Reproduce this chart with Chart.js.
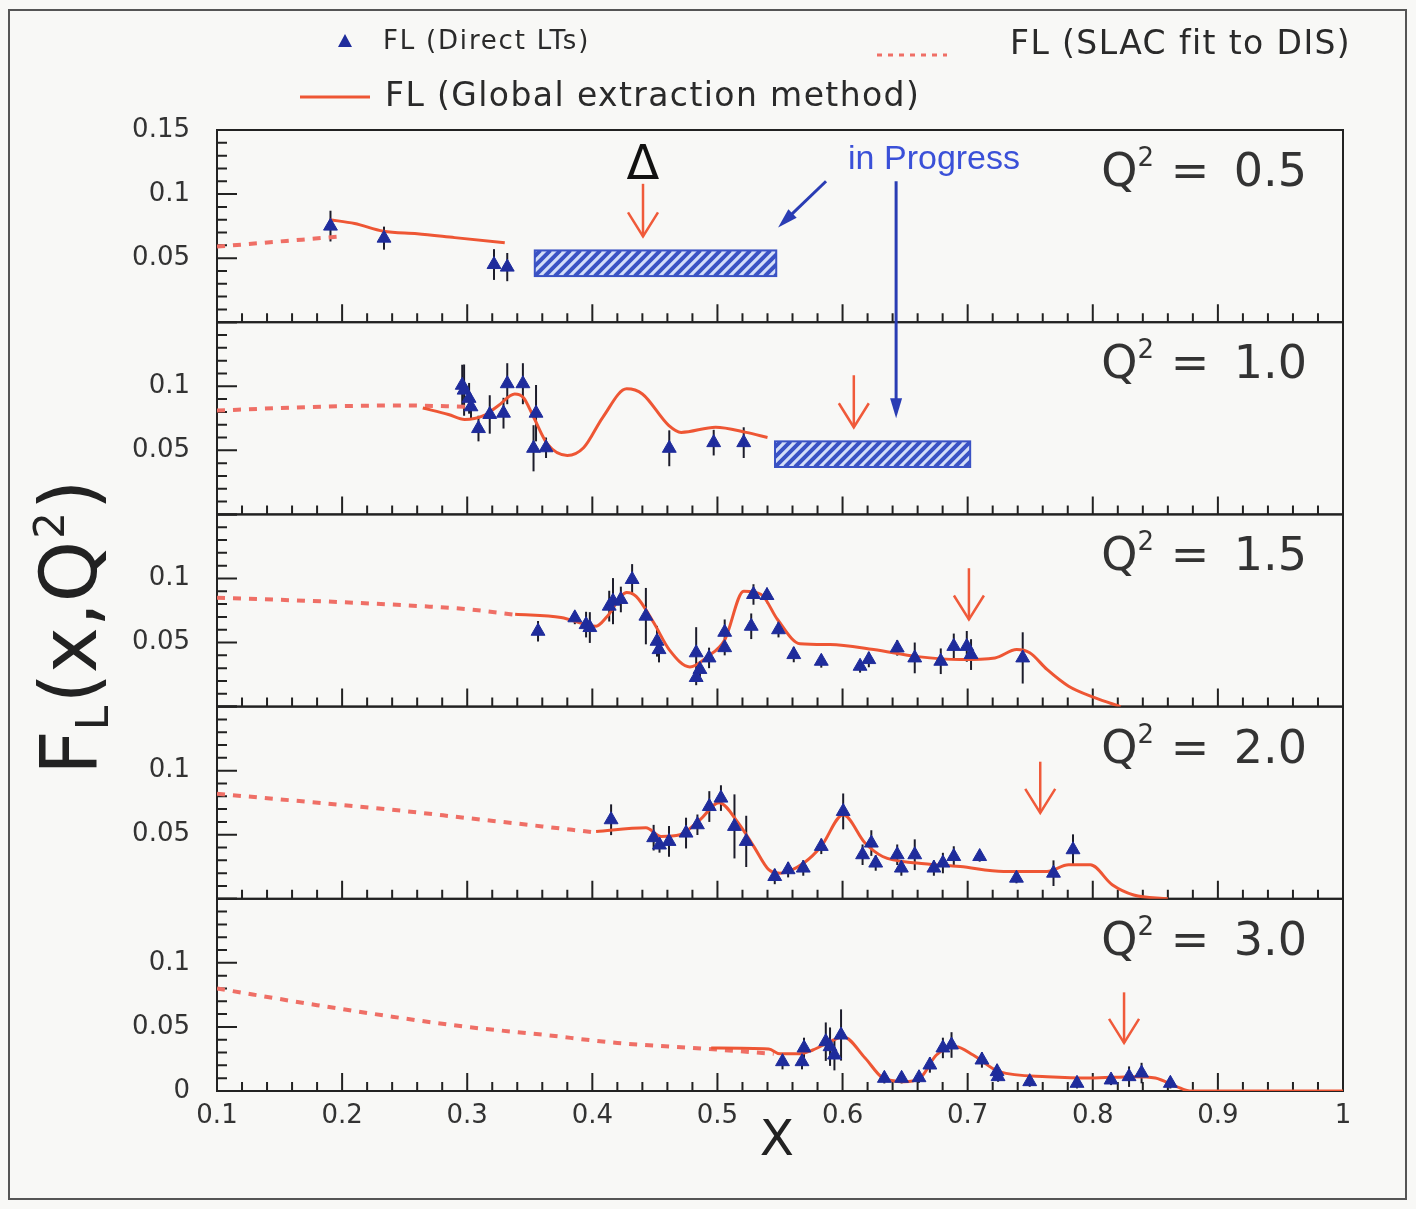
<!DOCTYPE html>
<html>
<head>
<meta charset="utf-8">
<script src="https://cdn.jsdelivr.net/npm/chart.js@4.4.1/dist/chart.umd.min.js"></script>
<style>
  html, body { margin: 0; padding: 0; background: #f8f8f6; }
  #wrap { width: 1416px; height: 1209px; position: relative; }
</style>
</head>
<body>
<div id="wrap"><canvas id="fl-chart"></canvas></div>
<script>
// Q^2 panels, top to bottom
var q2_labels = ['0.5', '1.0', '1.5', '2.0', '3.0'];

// FL from direct L/T separations (one row per panel)
var lt_x = [
  [0.1907, 0.2335, 0.3214, 0.332],
  [0.296, 0.2975, 0.3015, 0.303, 0.309, 0.318, 0.329, 0.332, 0.3445, 0.353, 0.355, 0.363, 0.4615, 0.497, 0.521],
  [0.3566, 0.386, 0.395, 0.398, 0.4135, 0.4165, 0.4228, 0.4318, 0.4428, 0.4517, 0.4533, 0.483, 0.483, 0.486, 0.4933, 0.5058, 0.5058,
   0.527, 0.5288, 0.5396, 0.5488, 0.561, 0.583, 0.614, 0.621, 0.6437, 0.6577, 0.6785, 0.6889, 0.6993, 0.7027, 0.744],
  [0.415, 0.449, 0.4537, 0.4613, 0.4749, 0.484, 0.4935, 0.5028, 0.5136, 0.523, 0.5458, 0.5565, 0.5686, 0.583, 0.6005, 0.616, 0.623,
   0.6265, 0.6437, 0.647, 0.6577, 0.673, 0.6802, 0.6889, 0.7096, 0.739, 0.7686, 0.7842],
  [0.552, 0.5676, 0.5692, 0.5866, 0.590, 0.5935, 0.5988, 0.6334, 0.6472, 0.6611, 0.6698, 0.6802, 0.6871, 0.7114, 0.7235, 0.7243,
   0.7496, 0.7874, 0.8146, 0.829, 0.839, 0.862]
];
var lt_y = [
  [0.075, 0.0656, 0.045, 0.043],
  [0.1008, 0.097, 0.0906, 0.084, 0.067, 0.078, 0.079, 0.102, 0.102, 0.0516, 0.079, 0.052, 0.0516, 0.056, 0.056],
  [0.0588, 0.0693, 0.064, 0.0617, 0.0784, 0.0823, 0.0836, 0.0992, 0.0706, 0.051, 0.0445, 0.042, 0.0227, 0.029, 0.038, 0.046, 0.058,
   0.0627, 0.0875, 0.0867, 0.060, 0.0406, 0.0354, 0.0315, 0.0367, 0.0458, 0.038, 0.0354, 0.047, 0.047, 0.0406, 0.038],
  [0.0617, 0.0477, 0.042, 0.0448, 0.0513, 0.0578, 0.072, 0.0786, 0.0565, 0.0448, 0.0174, 0.0227, 0.024, 0.0409, 0.0682, 0.0344, 0.0435,
   0.0279, 0.0344, 0.024, 0.0344, 0.024, 0.0279, 0.033, 0.033, 0.0161, 0.02, 0.0383],
  [0.0229, 0.0229, 0.0336, 0.0385, 0.0346, 0.0281, 0.0437, 0.0099, 0.0099, 0.0104, 0.0203, 0.0336, 0.0359, 0.0242, 0.0151, 0.0112,
   0.0073, 0.006, 0.0086, 0.0112, 0.014, 0.006]
];
var lt_err = [
  [0.012, 0.009, 0.012, 0.011],
  [0.016, 0.02, 0.012, 0.01, 0.01, 0.015, 0.012, 0.016, 0.016, 0.018, 0.022, 0.008, 0.014, 0.01, 0.012],
  [0.008, 0.005, 0.01, 0.012, 0.012, 0.018, 0.01, 0.012, 0.022, 0.012, 0.01, 0.02, 0.006, 0.006, 0.008, 0.006, 0.01,
   0.01, 0.008, 0.006, 0.006, 0.006, 0.005, 0.005, 0.006, 0.006, 0.012, 0.01, 0.01, 0.012, 0.012, 0.02],
  [0.012, 0.01, 0.006, 0.012, 0.012, 0.008, 0.012, 0.01, 0.025, 0.02, 0.006, 0.006, 0.006, 0.006, 0.014, 0.008, 0.01,
   0.006, 0.008, 0.006, 0.012, 0.006, 0.008, 0.008, 0.004, 0.004, 0.01, 0.012],
  [0.006, 0.006, 0.008, 0.015, 0.015, 0.012, 0.02, 0.004, 0.004, 0.004, 0.006, 0.008, 0.01, 0.006, 0.006, 0.004,
   0.004, 0.004, 0.004, 0.008, 0.008, 0.004]
];

// FL from the global extraction method
var fit_x = [
  [0.19, 0.21, 0.233, 0.26, 0.29, 0.33],
  [0.2645, 0.285, 0.298, 0.313, 0.325, 0.338, 0.345, 0.353, 0.364, 0.380, 0.393, 0.4085, 0.4275, 0.44, 0.461, 0.471, 0.4985, 0.523, 0.54],
  [0.3383, 0.375, 0.403, 0.412, 0.4275, 0.435, 0.449, 0.4614, 0.478, 0.492, 0.5058, 0.521, 0.535, 0.548, 0.566, 0.59, 0.6248,
   0.66, 0.694, 0.7219, 0.7392, 0.7496, 0.7634, 0.7807, 0.8015, 0.8223],
  [0.403, 0.4428, 0.455, 0.47, 0.486, 0.5013, 0.5166, 0.529, 0.541, 0.55, 0.569, 0.583, 0.6005, 0.618, 0.632, 0.6593, 0.694,
   0.7287, 0.7634, 0.7807, 0.798, 0.8155, 0.8327, 0.86],
  [0.495, 0.541, 0.55, 0.5658, 0.5762, 0.59, 0.6005, 0.618, 0.632, 0.649, 0.663, 0.675, 0.6906, 0.7044, 0.7251, 0.7634, 0.798,
   0.8327, 0.85, 0.867, 0.8777, 1.0]
];
var fit_y = [
  [0.080, 0.077, 0.071, 0.069, 0.066, 0.062],
  [0.083, 0.078, 0.074, 0.077, 0.085, 0.094, 0.091, 0.076, 0.055, 0.046, 0.052, 0.076, 0.098, 0.094, 0.0695, 0.064, 0.068, 0.064, 0.060],
  [0.072, 0.0695, 0.0627, 0.0705, 0.089, 0.086, 0.0656, 0.0445, 0.031, 0.039, 0.052, 0.090, 0.0875, 0.068, 0.049, 0.0484, 0.0445,
   0.039, 0.0367, 0.038, 0.0445, 0.042, 0.029, 0.0159, 0.007, 0.0],
  [0.0526, 0.0554, 0.0487, 0.05, 0.0617, 0.075, 0.0593, 0.0409, 0.0227, 0.02, 0.028, 0.041, 0.0656, 0.0435, 0.033, 0.0279, 0.0252,
   0.0213, 0.0213, 0.0265, 0.0265, 0.011, 0.003, 0.0],
  [0.0336, 0.0328, 0.029, 0.029, 0.032, 0.0385, 0.0424, 0.0258, 0.0104, 0.0073, 0.0112, 0.0281, 0.0346, 0.0281, 0.0151, 0.0112,
   0.0101, 0.0112, 0.0101, 0.0034, 0.0, 0.0]
];

// FL from the SLAC fit to DIS
var slac_x = [
  [0.1, 0.15, 0.2],
  [0.1, 0.15, 0.2, 0.25, 0.3],
  [0.1, 0.2, 0.27, 0.3, 0.34],
  [0.1, 0.24, 0.3, 0.36, 0.4],
  [0.1, 0.18, 0.24, 0.30, 0.36, 0.42, 0.49, 0.545]
];
var slac_y = [
  [0.059, 0.063, 0.067],
  [0.081, 0.083, 0.0845, 0.085, 0.084],
  [0.085, 0.0815, 0.078, 0.076, 0.0715],
  [0.082, 0.0695, 0.063, 0.0565, 0.052],
  [0.080, 0.067, 0.058, 0.050, 0.044, 0.0375, 0.033, 0.029]
];

// Delta(1232) arrows, one per panel
var delta_x = [0.4405, 0.609, 0.701, 0.758, 0.825];
var delta_top = [0.108, 0.1086, 0.108, 0.107, 0.077];
var delta_bottom = [0.067, 0.068, 0.068, 0.067, 0.0375];

// "in progress" bands (panels 0 and 1)
var band_panel = [0, 1];
var band_x0 = [0.354, 0.546];
var band_x1 = [0.547, 0.702];
var band_lo = [0.036, 0.037];
var band_hi = [0.056, 0.057];

var NAVY = '#1f2c9c';
var FIT_RED = '#ee5634';
var SLAC_RED = '#ef6f66';
var INK = '#333333';
var FONT = 'DejaVu Sans';

function pairs(xs, ys) {
  return xs.map(function (x, j) { return { x: x, y: ys[j] }; });
}

var datasets = [];
var scales = {
  x: {
    type: 'linear', min: 0.1, max: 1,
    afterFit: function (s) { s.height = 118; },
    grid: { display: false, drawTicks: false },
    border: { display: false },
    ticks: {
      stepSize: 0.1, padding: 10, color: INK,
      font: { family: FONT, size: 26 },
      callback: function (v) { return Math.abs(v - 1) < 1e-6 ? '1' : v.toFixed(1); }
    }
  }
};

// stacked panel axes; the last defined ends up on top
for (var i = 4; i >= 0; i--) {
  (function (i) {
    scales['y' + i] = {
      type: 'linear', position: 'left', stack: 'panels', stackWeight: 1,
      min: 0, max: 0.15,
      afterFit: function (s) { s.width = 217; },
      grid: { display: false, drawTicks: false },
      border: { display: false },
      ticks: {
        stepSize: 0.05, autoSkip: false, padding: 27, color: INK,
        font: { family: FONT, size: 26 },
        callback: function (v) {
          if (v > 0.149 && i !== 0) return '';
          if (v < 0.001 && i !== 4) return '';
          return v < 0.001 ? '0' : String(parseFloat(v.toFixed(2)));
        }
      }
    };
  })(i);
}

for (var p = 0; p < 5; p++) {
  datasets.push({
    label: 'FL (Direct LTs)', yAxisID: 'y' + p, order: 0,
    data: pairs(lt_x[p], lt_y[p]), errs: lt_err[p],
    pointStyle: 'triangle', pointRadius: 8, pointHoverRadius: 8,
    backgroundColor: NAVY, borderColor: NAVY, borderWidth: 1, showLine: false
  });
  datasets.push({
    label: 'FL (Global extraction method)', yAxisID: 'y' + p, order: 1,
    data: pairs(fit_x[p], fit_y[p]), showLine: true, pointRadius: 0,
    borderColor: FIT_RED, borderWidth: 3, cubicInterpolationMode: 'monotone'
  });
  datasets.push({
    label: 'FL (SLAC fit to DIS)', yAxisID: 'y' + p, order: 2,
    data: pairs(slac_x[p], slac_y[p]), showLine: true, pointRadius: 0,
    borderColor: SLAC_RED, borderWidth: 4, borderDash: [8, 8], cubicInterpolationMode: 'monotone'
  });
}

function yScale(chart, p) { return chart.scales['y' + p]; }

function openArrow(ctx, x, y0, y1, color) {
  ctx.save();
  ctx.strokeStyle = color; ctx.lineWidth = 2.5;
  ctx.beginPath(); ctx.moveTo(x, y0); ctx.lineTo(x, y1); ctx.stroke();
  ctx.beginPath(); ctx.moveTo(x - 15, y1 - 24); ctx.lineTo(x, y1); ctx.lineTo(x + 15, y1 - 24); ctx.stroke();
  ctx.restore();
}

function solidArrow(ctx, x0, y0, x1, y1, color) {
  var a = Math.atan2(y1 - y0, x1 - x0);
  ctx.save();
  ctx.strokeStyle = color; ctx.fillStyle = color; ctx.lineWidth = 3;
  ctx.beginPath(); ctx.moveTo(x0, y0);
  ctx.lineTo(x1 - 14 * Math.cos(a), y1 - 14 * Math.sin(a)); ctx.stroke();
  ctx.beginPath(); ctx.moveTo(x1, y1);
  ctx.lineTo(x1 - 20 * Math.cos(a) + 6 * Math.sin(a), y1 - 20 * Math.sin(a) - 6 * Math.cos(a));
  ctx.lineTo(x1 - 20 * Math.cos(a) - 6 * Math.sin(a), y1 - 20 * Math.sin(a) + 6 * Math.cos(a));
  ctx.closePath(); ctx.fill();
  ctx.restore();
}

// page background, outer box, panel frames and inward ticks
var framePlugin = {
  id: 'frames',
  beforeDraw: function (chart) {
    var ctx = chart.ctx;
    ctx.save();
    ctx.fillStyle = '#f8f8f6';
    ctx.fillRect(0, 0, chart.width, chart.height);
    ctx.strokeStyle = '#555'; ctx.lineWidth = 2;
    ctx.strokeRect(9, 10, 1397, 1189);
    ctx.restore();
  },
  beforeDatasetsDraw: function (chart) {
    var ctx = chart.ctx, xs = chart.scales.x, area = chart.chartArea;
    ctx.save();
    ctx.strokeStyle = '#222'; ctx.lineWidth = 2;
    for (var p = 0; p < 5; p++) {
      var ys = yScale(chart, p);
      ctx.strokeRect(area.left, ys.top, area.right - area.left, ys.bottom - ys.top);
      ctx.beginPath();
      for (var k = 0; k <= 15; k++) {
        var py = ys.getPixelForValue(k / 100);
        ctx.moveTo(area.left, py); ctx.lineTo(area.left + (k % 5 === 0 ? 20 : 10), py);
      }
      for (var m = 5; m <= 50; m++) {
        var px = xs.getPixelForValue(m * 0.02);
        ctx.moveTo(px, ys.bottom); ctx.lineTo(px, ys.bottom - (m % 5 === 0 ? 18 : 9));
      }
      ctx.stroke();
    }
    // error bars
    ctx.lineWidth = 2; ctx.strokeStyle = '#1c1c2a';
    chart.data.datasets.forEach(function (ds, n) {
      if (!ds.errs) return;
      var sc = chart.scales[ds.yAxisID];
      chart.getDatasetMeta(n).data.forEach(function (el, j) {
        var d = ds.data[j];
        ctx.beginPath();
        ctx.moveTo(el.x, sc.getPixelForValue(d.y - ds.errs[j]));
        ctx.lineTo(el.x, sc.getPixelForValue(d.y + ds.errs[j]));
        ctx.stroke();
      });
    });
    ctx.restore();
  }
};

// bands, arrows, panel labels, legend and axis titles
var notesPlugin = {
  id: 'notes',
  afterDatasetsDraw: function (chart) {
    var ctx = chart.ctx, xs = chart.scales.x, area = chart.chartArea;
    ctx.save();

    // hatched "in progress" bands
    band_panel.forEach(function (p, b) {
      var ys = yScale(chart, p);
      var x0 = xs.getPixelForValue(band_x0[b]), x1 = xs.getPixelForValue(band_x1[b]);
      var yt = ys.getPixelForValue(band_hi[b]), yb = ys.getPixelForValue(band_lo[b]);
      ctx.save();
      ctx.beginPath(); ctx.rect(x0, yt, x1 - x0, yb - yt); ctx.clip();
      ctx.fillStyle = '#d4def8'; ctx.fillRect(x0, yt, x1 - x0, yb - yt);
      ctx.strokeStyle = '#3a52c4'; ctx.lineWidth = 4;
      ctx.beginPath();
      for (var s = x0 - 40; s < x1 + 40; s += 10) { ctx.moveTo(s, yb); ctx.lineTo(s + (yb - yt), yt); }
      ctx.stroke();
      ctx.restore();
      ctx.strokeStyle = '#3a52c4'; ctx.lineWidth = 2;
      ctx.strokeRect(x0, yt, x1 - x0, yb - yt);
    });

    // Delta arrows
    for (var p = 0; p < 5; p++) {
      var ys = yScale(chart, p);
      openArrow(ctx, xs.getPixelForValue(delta_x[p]), ys.getPixelForValue(delta_top[p]),
        ys.getPixelForValue(delta_bottom[p]), '#f05a3a');
    }
    var y0 = yScale(chart, 0), y1 = yScale(chart, 1);
    ctx.fillStyle = '#111'; ctx.font = '48px ' + FONT; ctx.textAlign = 'center'; ctx.textBaseline = 'alphabetic';
    ctx.fillText('\u0394', xs.getPixelForValue(delta_x[0]), y0.getPixelForValue(0.112));

    // "in Progress" arrows and text
    solidArrow(ctx, xs.getPixelForValue(0.5868), y0.getPixelForValue(0.110),
      xs.getPixelForValue(0.5485), y0.getPixelForValue(0.074), '#2a3db4');
    solidArrow(ctx, xs.getPixelForValue(0.6428), y0.getPixelForValue(0.110),
      xs.getPixelForValue(0.6428), y1.getPixelForValue(0.075), '#2a3db4');
    ctx.fillStyle = '#3a50d8'; ctx.font = '34px "Liberation Sans"'; ctx.textAlign = 'left';
    ctx.fillText('in Progress', xs.getPixelForValue(0.6044), y0.getPixelForValue(0.1195));

    // Q^2 labels
    ctx.fillStyle = '#333';
    for (var q = 0; q < 5; q++) {
      var top = yScale(chart, q).top;
      var right = area.right - 36, base = top + 56;
      ctx.font = '46px ' + FONT;
      var rest = ' = ' + q2_labels[q];
      var wRest = ctx.measureText(rest).width + 10;
      ctx.textAlign = 'left';
      ctx.fillText(' =', right - wRest, base);
      ctx.textAlign = 'right';
      ctx.fillText(q2_labels[q], right, base);
      ctx.textAlign = 'left';
      ctx.font = '26px ' + FONT;
      var w2 = ctx.measureText('2').width;
      ctx.fillText('2', right - wRest - w2 - 2, base - 20);
      ctx.font = '46px ' + FONT;
      var wQ = ctx.measureText('Q').width;
      ctx.fillText('Q', right - wRest - w2 - 2 - wQ, base);
    }
    ctx.restore();
  },
  afterDraw: function (chart) {
    var ctx = chart.ctx, ds = chart.data.datasets;
    ctx.save();
    ctx.textBaseline = 'middle'; ctx.textAlign = 'left'; ctx.fillStyle = INK;

    // legend
    ctx.fillStyle = ds[0].backgroundColor;
    ctx.beginPath(); ctx.moveTo(345, 34); ctx.lineTo(352, 47); ctx.lineTo(338, 47); ctx.closePath(); ctx.fill();
    ctx.fillStyle = '#2a2a2a'; ctx.font = '26px ' + FONT;
    ctx.letterSpacing = '1.8px';
    ctx.fillText(ds[0].label, 383, 42);

    ctx.letterSpacing = '1.4px';
    ctx.strokeStyle = ds[2].borderColor; ctx.lineWidth = 3; ctx.setLineDash([5, 6]);
    ctx.beginPath(); ctx.moveTo(877, 55); ctx.lineTo(947, 55); ctx.stroke();
    ctx.setLineDash([]);
    ctx.font = '33px ' + FONT;
    ctx.fillText(ds[2].label, 1010, 45);

    ctx.strokeStyle = ds[1].borderColor; ctx.lineWidth = 3;
    ctx.beginPath(); ctx.moveTo(300, 97); ctx.lineTo(370, 97); ctx.stroke();
    ctx.fillText(ds[1].label, 385, 97);
    ctx.letterSpacing = '0px';

    // x title
    ctx.textAlign = 'center'; ctx.font = '50px ' + FONT; ctx.fillStyle = '#222';
    ctx.fillText('X', 777, 1142);

    // y title F_L(x,Q^2), rotated
    ctx.translate(96, 775); ctx.rotate(-Math.PI / 2);
    ctx.textAlign = 'left'; ctx.textBaseline = 'alphabetic';
    var x = 0;
    ctx.font = '78px ' + FONT; ctx.fillText('F', x, 0); x += ctx.measureText('F').width;
    ctx.font = '44px ' + FONT; ctx.fillText('L', x, 12); x += ctx.measureText('L').width + 2;
    ctx.font = '78px ' + FONT; ctx.fillText('(x,Q', x, 0); x += ctx.measureText('(x,Q').width;
    ctx.font = '42px ' + FONT; ctx.fillText('2', x + 2, -32); x += ctx.measureText('2').width + 4;
    ctx.font = '78px ' + FONT; ctx.fillText(')', x, 0);
    ctx.restore();
  }
};

new Chart(document.getElementById('fl-chart'), {
  type: 'scatter',
  data: { datasets: datasets },
  options: {
    responsive: true,
    maintainAspectRatio: false,
    animation: false,
    layout: { padding: { top: 130, right: 73, bottom: 0, left: 0 } },
    plugins: { legend: { display: false }, tooltip: { enabled: false } },
    scales: scales
  },
  plugins: [framePlugin, notesPlugin]
});
</script>
</body>
</html>
